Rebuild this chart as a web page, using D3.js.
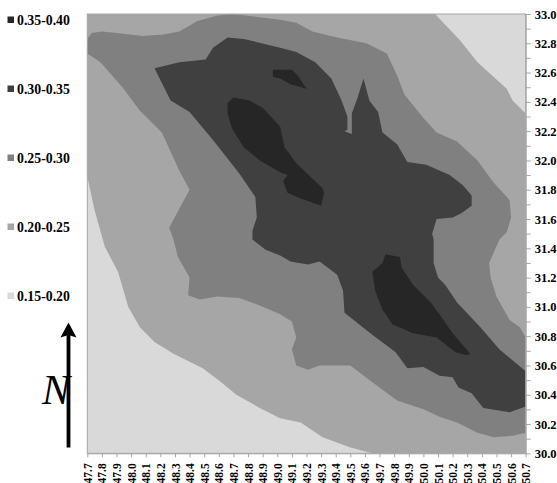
<!DOCTYPE html>
<html lang="en">
  <head>
    <meta charset="UTF-8" />
    <title>Contour map</title>
    <style>
      body {
        margin: 0;
        background: #fff;
      }
      text {
        font-family: "Liberation Serif", serif;
        font-weight: bold;
        fill: #000;
      }
    </style>
  </head>
  <body>
    <div id="chart"></div>

    <script src="https://d3js.org/d3.v7.min.js"></script>
    <script>
      // legend, darkest first
      const classes = ["0.35-0.40", "0.30-0.35", "0.25-0.30", "0.20-0.25", "0.15-0.20"];
      const classColors = ["#262626", "#404040", "#808080", "#a6a6a6", "#d9d9d9"];

      // contour outlines as [lon, lat]
      const band20 = [
        [50.08, 33.0], [50.25, 32.82], [50.37, 32.67], [50.57, 32.49], [50.61, 32.41], [50.7, 32.32],
        [50.7, 30.0], [49.65, 30.0], [49.5, 30.04], [49.31, 30.11], [49.16, 30.21], [49.02, 30.24],
        [48.88, 30.31], [48.72, 30.4], [48.61, 30.49], [48.49, 30.58], [48.29, 30.68], [48.16, 30.76],
        [48.06, 30.86], [47.98, 31.0], [47.91, 31.24], [47.82, 31.41], [47.75, 31.66], [47.7, 31.89],
        [47.7, 33.0],
      ];
      const band25 = [
        [47.7, 32.83], [47.73, 32.87], [47.8, 32.88], [47.9, 32.87], [48.08, 32.85], [48.22, 32.86],
        [48.33, 32.88], [48.45, 32.95], [48.59, 32.99], [48.7, 33.0], [49.02, 32.96], [49.13, 32.94],
        [49.24, 32.88], [49.41, 32.84], [49.61, 32.8], [49.75, 32.73], [49.82, 32.58], [49.87, 32.45],
        [50.0, 32.29], [50.09, 32.19], [50.23, 32.13], [50.37, 32.0], [50.48, 31.85], [50.59, 31.73],
        [50.6, 31.61], [50.57, 31.51], [50.52, 31.46], [50.45, 31.3], [50.46, 31.2], [50.5, 31.07],
        [50.59, 30.91], [50.66, 30.86], [50.7, 30.79], [50.7, 30.14], [50.61, 30.12], [50.48, 30.11],
        [50.37, 30.14], [50.23, 30.21], [50.11, 30.25], [50.0, 30.3], [49.82, 30.36], [49.63, 30.5],
        [49.5, 30.6], [49.29, 30.6], [49.21, 30.57], [49.13, 30.6], [49.1, 30.71], [49.13, 30.79],
        [49.1, 30.9], [49.02, 30.95], [48.88, 31.01], [48.74, 31.06], [48.59, 31.07], [48.47, 31.05],
        [48.39, 31.08], [48.4, 31.2], [48.32, 31.34], [48.29, 31.46], [48.26, 31.54], [48.4, 31.8],
        [48.33, 31.93], [48.21, 32.19], [48.06, 32.34], [47.94, 32.5], [47.79, 32.67], [47.7, 32.73],
      ];
      const band30 = [
        [48.16, 32.63], [48.33, 32.67], [48.51, 32.69], [48.56, 32.77], [48.66, 32.84], [48.77, 32.83],
        [49.02, 32.77], [49.13, 32.74], [49.26, 32.67], [49.37, 32.56], [49.44, 32.41], [49.48, 32.3],
        [49.48, 32.21], [49.46, 32.2], [49.51, 32.18], [49.51, 32.32], [49.55, 32.43], [49.59, 32.56],
        [49.63, 32.41], [49.69, 32.33], [49.72, 32.19], [49.82, 32.11], [49.89, 31.99], [50.02, 31.97],
        [50.18, 31.9], [50.27, 31.83], [50.33, 31.76], [50.33, 31.69], [50.26, 31.64], [50.2, 31.61],
        [50.09, 31.6], [50.06, 31.5], [50.07, 31.46], [50.07, 31.3], [50.1, 31.2], [50.15, 31.15],
        [50.23, 31.03], [50.39, 30.86], [50.52, 30.71], [50.7, 30.56], [50.7, 30.32], [50.59, 30.28],
        [50.41, 30.31], [50.33, 30.41], [50.24, 30.45], [50.2, 30.52], [50.11, 30.53], [50.0, 30.59],
        [49.89, 30.58], [49.81, 30.69], [49.65, 30.81], [49.46, 30.96], [49.45, 31.11], [49.41, 31.22],
        [49.29, 31.31], [49.21, 31.29], [49.09, 31.31], [49.02, 31.35], [48.92, 31.39], [48.83, 31.46],
        [48.83, 31.52], [48.86, 31.61], [48.85, 31.75], [48.83, 31.78], [48.74, 31.91], [48.56, 32.14],
        [48.4, 32.33], [48.27, 32.41],
      ];
      const peakWest = [
        [48.66, 32.39], [48.7, 32.43], [48.81, 32.41], [48.9, 32.36], [49.02, 32.23], [49.05, 32.09],
        [49.13, 31.98], [49.31, 31.81], [49.32, 31.78], [49.3, 31.69], [49.16, 31.74], [49.07, 31.78],
        [49.04, 31.86], [49.07, 31.9], [49.02, 31.92], [48.88, 32.0], [48.77, 32.09], [48.69, 32.22],
        [48.66, 32.32],
      ];
      const peakNorth = [
        [48.97, 32.62], [49.02, 32.62], [49.1, 32.62], [49.14, 32.58], [49.2, 32.49], [49.09, 32.52],
        [49.02, 32.56], [48.97, 32.57],
      ];
      const peakSouth = [
        [49.65, 31.24], [49.72, 31.3], [49.74, 31.36], [49.84, 31.34], [49.85, 31.27], [49.93, 31.15],
        [50.05, 31.03], [50.13, 30.92], [50.2, 30.82], [50.32, 30.68], [50.3, 30.67], [50.22, 30.69],
        [50.09, 30.79], [49.93, 30.82], [49.79, 30.88], [49.72, 30.98], [49.67, 31.11],
      ];

      const width = 557,
        height = 483;
      const left = 87.3,
        right = 525.7,
        top_ = 14,
        bottom = 453.3;

      const x = d3.scaleLinear().domain([47.7, 50.7]).range([left, right]);
      const y = d3.scaleLinear().domain([30, 33]).range([bottom, top_]);

      const svg = d3
        .select("#chart")
        .append("svg")
        .attr("width", width)
        .attr("height", height);

      // background is the lowest class
      svg
        .append("rect")
        .attr("x", left)
        .attr("y", top_)
        .attr("width", right - left)
        .attr("height", bottom - top_)
        .attr("fill", classColors[4]);

      const line = d3
        .line()
        .x((d) => x(d[0]))
        .y((d) => y(d[1]))
        .curve(d3.curveLinearClosed);

      const layers = [
        { pts: band20, color: classColors[3] },
        { pts: band25, color: classColors[2] },
        { pts: band30, color: classColors[1] },
        { pts: peakWest, color: classColors[0] },
        { pts: peakNorth, color: classColors[0] },
        { pts: peakSouth, color: classColors[0] },
      ];

      svg
        .selectAll(".layer")
        .data(layers)
        .enter()
        .append("path")
        .attr("class", "layer")
        .attr("d", (d) => line(d.pts))
        .attr("fill", (d) => d.color);

      // frame
      svg
        .append("rect")
        .attr("x", left)
        .attr("y", top_)
        .attr("width", right - left)
        .attr("height", bottom - top_)
        .attr("fill", "none")
        .attr("stroke", "#a6a6a6")
        .attr("stroke-width", 1);

      // bottom axis, one tick per 0.1 degree
      const xTicks = d3.range(0, 31).map((i) => 47.7 + i / 10);
      const xAxis = svg
        .append("g")
        .attr("transform", `translate(0,${bottom})`)
        .call(d3.axisBottom(x).tickValues(xTicks).tickFormat(d3.format(".1f")).tickSize(4).tickSizeOuter(0));
      xAxis.select(".domain").attr("stroke", "#a6a6a6");
      xAxis.selectAll("line").attr("stroke", "#a6a6a6");
      xAxis
        .selectAll("text")
        .attr("transform", "rotate(-90)")
        .attr("text-anchor", "end")
        .attr("x", -10)
        .attr("y", 0)
        .attr("dy", "0.35em")
        .style("font-size", "11.5px");

      // right axis, labels on every second tick
      const yTicks = d3.range(0, 31).map((i) => 30 + i / 10);
      const yAxis = svg
        .append("g")
        .attr("transform", `translate(${right},0)`)
        .call(
          d3
            .axisRight(y)
            .tickValues(yTicks)
            .tickFormat((d, i) => (i % 2 === 0 ? d3.format(".1f")(d) : ""))
            .tickSize(5)
            .tickSizeOuter(0)
        );
      yAxis.select(".domain").attr("stroke", "#a6a6a6");
      yAxis.selectAll("line").attr("stroke", "#a6a6a6");
      yAxis.selectAll("text").attr("x", 9).style("font-size", "12.5px");

      // legend
      const legendY = d3.scalePoint().domain(classes).range([20, 296]);
      const legend = svg
        .selectAll(".legend")
        .data(classes)
        .enter()
        .append("g")
        .attr("class", "legend")
        .attr("transform", (d) => `translate(0,${legendY(d)})`);
      legend
        .append("rect")
        .attr("x", 7.5)
        .attr("y", -3.5)
        .attr("width", 6.5)
        .attr("height", 6.5)
        .attr("fill", (d, i) => classColors[i]);
      legend
        .append("text")
        .attr("x", 17)
        .attr("dy", "0.35em")
        .style("font-size", "13.8px")
        .text((d) => d);

      // north arrow
      svg
        .append("line")
        .attr("x1", 68.5)
        .attr("x2", 68.5)
        .attr("y1", 447.5)
        .attr("y2", 332)
        .attr("stroke", "#000")
        .attr("stroke-width", 3.8);
      svg
        .append("path")
        .attr("d", "M68.5,322.5L76.5,337.5L68.5,335L60.5,337.5Z")
        .attr("fill", "#000");
      svg
        .append("text")
        .attr("x", 56)
        .attr("y", 404)
        .attr("text-anchor", "middle")
        .style("font-family", '"Liberation Serif", serif')
        .style("font-style", "italic")
        .style("font-weight", "normal")
        .style("font-size", "42px")
        .text("N");
    </script>
  </body>
</html>
